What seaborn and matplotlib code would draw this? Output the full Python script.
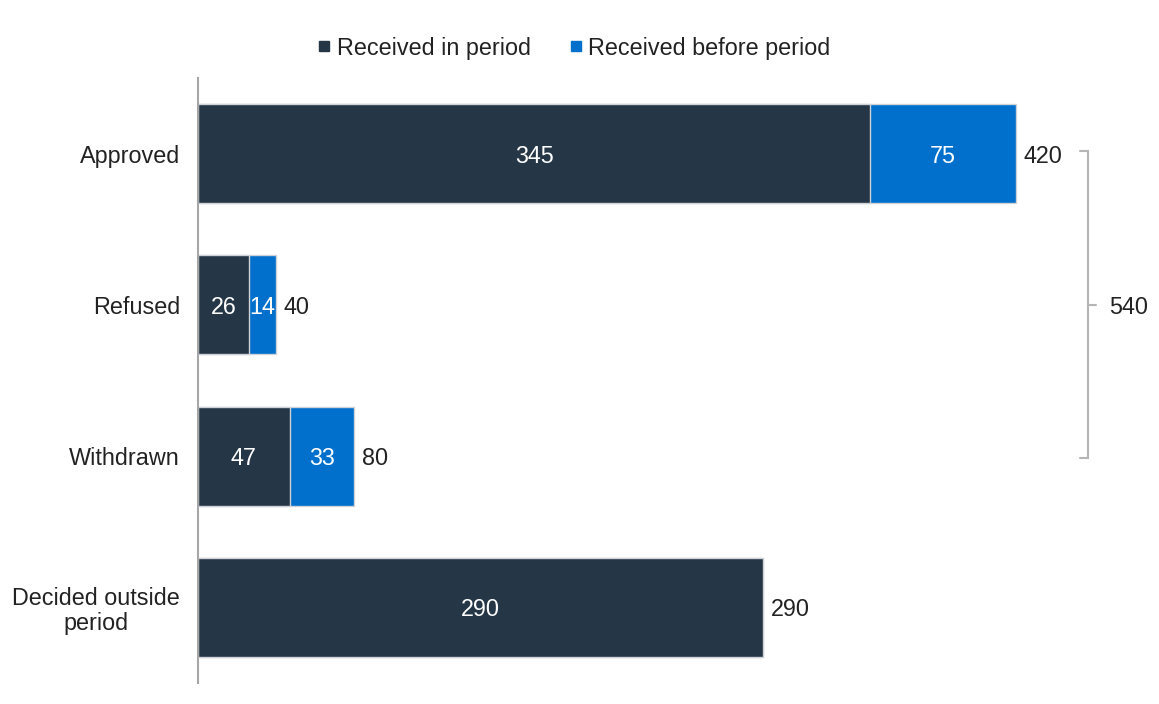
import matplotlib
matplotlib.use("Agg")
import matplotlib.pyplot as plt
from matplotlib.lines import Line2D
import seaborn as sns
import pandas as pd

categories = ["Approved", "Refused", "Withdrawn", "Decided outside\nperiod"]
received_in_period = [345, 26, 47, 290]
received_before_period = [75, 14, 33, 0]
series_names = ["Received in period", "Received before period"]

totals = [a + b for a, b in zip(received_in_period, received_before_period)]
decided_total = sum(totals[:3])

DARK = "#253646"
BLUE = "#0070CC"
EDGE = "#cfd3d8"
TEXT = "#222222"

sns.set_theme(style="white")
plt.rcParams["font.family"] = ["Liberation Sans", "DejaVu Sans"]
FS = 16.8

df = pd.DataFrame({"category": categories,
                   "in_period": received_in_period,
                   "total": totals})

fig = plt.figure(figsize=(11.59, 7.04), dpi=100)
ax = fig.add_axes([198 / 1159, 21 / 704, 961 / 1159, 605 / 704])

# full totals in blue, then the in-period part drawn over them in dark
sns.barplot(data=df, y="category", x="total", orient="h", color=BLUE,
            width=0.655, edgecolor=EDGE, linewidth=1, saturation=1, ax=ax)
sns.barplot(data=df, y="category", x="in_period", orient="h", color=DARK,
            width=0.655, edgecolor=EDGE, linewidth=1, saturation=1, ax=ax)

ax.set_xlim(0, 493.3)
ax.set_ylim(3.5, -0.5)
ax.set_xlabel("")
ax.set_ylabel("")
ax.set_xticks([])
ax.tick_params(axis="y", length=0, pad=13, labelsize=FS, labelcolor=TEXT)
for lab in ax.get_yticklabels():
    lab.set_multialignment("center")
    lab.set_linespacing(1.1)

for s in ["top", "right", "bottom"]:
    ax.spines[s].set_visible(False)
ax.spines["left"].set_color("#a6a6a6")
ax.spines["left"].set_linewidth(1.5)

# segment values
for i, (a, b) in enumerate(zip(received_in_period, received_before_period)):
    ax.text(a / 2, i, str(a), ha="center", va="center_baseline", color="white", fontsize=FS)
    if b > 0:
        ax.text(a + b / 2, i, str(b), ha="center", va="center_baseline", color="white", fontsize=FS)
    ax.text(totals[i] + 4, i, str(totals[i]), ha="left", va="center_baseline", color=TEXT, fontsize=FS)

# bracket summarising the decided applications
bx = 456.9
bc = "#b5b5b5"
ax.plot([bx - 4, bx, bx, bx - 4], [-0.02, -0.02, 2.01, 2.01], color=bc, lw=1.5,
        solid_joinstyle="miter", clip_on=False)
ax.plot([bx, bx + 4], [1.0, 1.0], color=bc, lw=1.5, clip_on=False)
ax.text(bx + 11, 1.0, str(decided_total), ha="left", va="center_baseline", color=TEXT, fontsize=FS)

handles = [Line2D([], [], marker="s", linestyle="none", markersize=6.5,
                  markerfacecolor=c, markeredgecolor=c) for c in (DARK, BLUE)]
fig.legend(handles, series_names, loc="center", bbox_to_anchor=(574 / 1159, 1 - 48 / 704),
           ncol=2, frameon=False, fontsize=FS, handlelength=0.6, handletextpad=0.25,
           columnspacing=1.6, labelcolor=TEXT)

fig.savefig("out.png", dpi=100, facecolor="white")
